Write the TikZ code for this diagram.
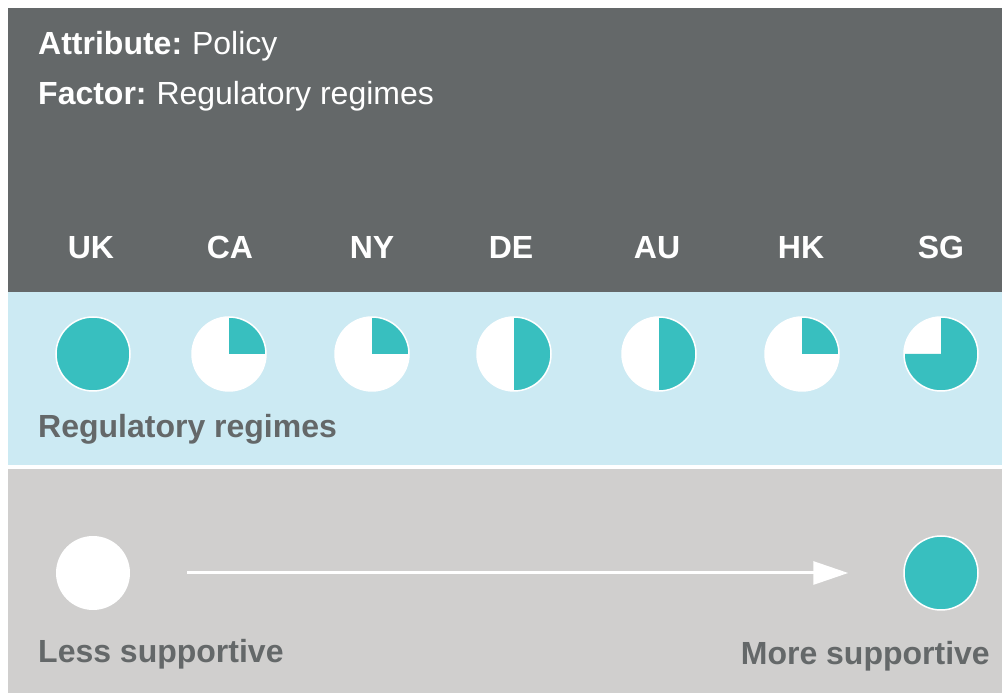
\documentclass[tikz,border=0pt]{standalone}
\usepackage{fontspec}
\setmainfont{Liberation Sans}
\usetikzlibrary{arrows.meta}
\definecolor{slate}{HTML}{646869}
\definecolor{paleblue}{HTML}{CCEAF3}
\definecolor{stone}{HTML}{D0CFCE}
\definecolor{regteal}{HTML}{38BFBF}
\tikzset{
    piecircle/.style={circle,fill=white,inner sep=0pt,minimum size=74pt},
    pieedge/.style={draw=white,line width=1.5pt},
    countrylabel/.style={anchor=base,text=white,font=\fontsize{32}{38}\selectfont\bfseries,inner sep=0pt},
    headline/.style={anchor=base west,text=white,font=\fontsize{32}{38}\selectfont,inner sep=0pt},
    greylabel/.style={text=slate,font=\fontsize{32}{38}\selectfont\bfseries,inner sep=0pt},
    legendarrow/.style={white,line width=3pt,-{Triangle[length=35pt,width=23pt]}}
}
\newcommand{\regpie}[4]{%
    \node[piecircle] (#1) at (#2,339) {};
    \fill[regteal] (#1.center)--++(#3:37pt)
        arc[start angle=#3,end angle=#4,radius=37pt]--cycle;
    \draw[pieedge] (#1.center) circle[radius=37pt];
}

\begin{document}
\begin{tikzpicture}[x=1pt,y=1pt]
    \useasboundingbox (0,0) rectangle (1002,693);
    % panels
    \fill[slate] (8,685) rectangle (1002,401);
    \fill[paleblue] (8,401) rectangle (1002,228);
    \fill[stone] (8,224) rectangle (1002,0);
    \node[headline] (attribute) at (38,638) {\textbf{Attribute:}\hspace{-2pt} Policy};
    \node[headline] (factor) at (38,588) {\textbf{Factor:}\hspace{-2pt} Regulatory regimes};
    \foreach \code/\xpos/\from/\to in {UK/91/0/360,CA/230/0/90,NY/372/0/90,
        DE/511/-90/90,AU/657/-90/90,HK/801/0/90,SG/941/180/450} {
        \node[countrylabel] (lab\code) at (\xpos,434) {\code};
    }
    \foreach \code/\xpos/\from/\to in {UK/93/0/360,CA/229/0/90,NY/372/0/90,
        DE/514/-90/90,AU/659/-90/90,HK/802/0/90,SG/941/180/450} {
        \regpie{pie\code}{\xpos}{\from}{\to}
    }
    \node[greylabel,anchor=base west] (regimes) at (38,255) {Regulatory regimes};
    % legend
    \node[piecircle] (less) at (93,120) {};
    \node[piecircle,fill=regteal,pieedge] (more) at (941,120) {};
    \draw[legendarrow,shorten <=57pt,shorten >=55pt] (less) -- (more);
    \node[greylabel,anchor=base west] (lesslabel) at (38,30) {Less supportive};
    \node[greylabel,anchor=base east] (morelabel) at (990,28) {More supportive};
\end{tikzpicture}
\end{document}
